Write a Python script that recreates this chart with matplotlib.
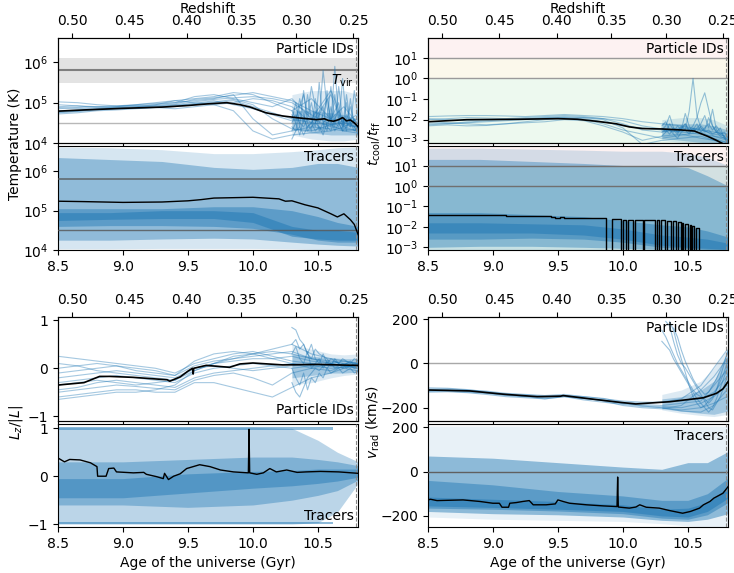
import numpy as np
import matplotlib.pyplot as plt
from matplotlib.ticker import NullLocator

nan = np.nan
BLUE = "#1f77b4"

# axes ticks
AGE_TICKS = [8.5, 9.0, 9.5, 10.0, 10.5]
Z_TICKS = [0.50, 0.45, 0.40, 0.35, 0.30, 0.25]
Z_AGES = [8.61, 9.05, 9.49, 9.91, 10.335, 10.77]
T_END = 10.79
XLIM = (8.5, 10.81)

# time grids for the particle ID trajectories
t_pid = [8.5, 8.65, 8.8, 8.95, 9.1, 9.25, 9.4, 9.55, 9.7, 9.85, 10.0, 10.15, 10.3, 10.45, 10.6, 10.7, 10.8]
t_late = [10.30, 10.33, 10.36, 10.39, 10.42, 10.45, 10.48, 10.51, 10.54, 10.57, 10.60, 10.63, 10.66, 10.69, 10.72, 10.75, 10.78, 10.81]
t_lateband = [10.3, 10.45, 10.6, 10.7, 10.81]

# ---------------- Temperature (log10 K) ----------------
temp_pid = [
    [4.78, 4.80, 4.83, 4.85, 4.86, 4.88, 4.90, 4.95, 5.00, 5.05, 4.90, 4.75, 4.60, 4.50, 4.45, 4.50, 4.40],
    [4.85, 4.88, 4.90, 4.92, 4.93, 4.95, 5.05, 5.10, 5.15, 5.25, 5.20, 5.00, 4.80, 5.10, 4.60, 4.90, 4.50],
    [5.02, 5.00, 4.95, 4.92, 4.95, 4.98, 5.00, 5.05, 5.10, 5.20, 4.60, 4.20, 4.30, 4.40, 4.35, 4.30, 4.35],
    [4.72, 4.75, 4.80, 4.82, 4.85, 4.88, 4.85, 4.90, 4.95, 5.00, 5.10, 5.05, 4.90, 4.50, 5.20, 4.40, 4.60],
    [4.90, 4.92, 4.88, 4.90, 4.95, 5.00, 5.05, 5.00, 4.95, 4.80, 4.30, 4.10, 4.20, 4.25, 4.30, 4.40, 4.30],
    [4.75, 4.78, 4.82, 4.85, 4.88, 4.92, 4.95, 5.02, 5.08, 5.12, 5.15, 5.10, 5.00, 4.70, 4.45, 4.55, 4.35],
    [4.95, 4.92, 4.90, 4.88, 4.90, 4.95, 5.00, 5.15, 5.20, 5.10, 5.00, 4.90, 5.10, 4.60, 5.30, 4.50, 4.70],
    [4.80, 4.82, 4.85, 4.90, 4.92, 4.90, 4.92, 4.98, 5.05, 4.95, 4.85, 4.70, 4.55, 4.60, 4.40, 4.35, 4.30],
    [4.88, 4.86, 4.84, 4.87, 4.90, 4.93, 4.97, 5.08, 5.12, 5.18, 5.25, 5.15, 5.05, 4.80, 4.60, 4.45, 4.40],
    [4.76, 4.79, 4.84, 4.86, 4.87, 4.89, 4.94, 4.97, 5.02, 5.08, 4.95, 4.60, 4.35, 4.30, 4.45, 4.30, 4.25],
]
temp_late = [
    [4.6, 5.0, 4.4, 5.3, 4.5, 4.3, 5.1, 4.6, 5.8, 4.9, 4.4, 5.2, 4.5, 4.3, 5.0, 4.4, 4.6, 4.3],
    [4.4, 4.3, 4.8, 4.5, 5.2, 4.6, 4.4, 5.5, 4.5, 4.3, 4.9, 4.4, 5.4, 4.6, 4.3, 5.1, 4.4, 4.5],
    [4.5, 4.7, 4.5, 4.4, 4.6, 5.0, 4.5, 4.4, 4.3, 5.3, 4.5, 5.9, 4.6, 4.4, 5.2, 4.5, 4.3, 4.4],
    [4.3, 4.5, 4.2, 4.6, 4.4, 4.5, 4.8, 4.3, 4.5, 4.6, 5.4, 4.5, 4.4, 5.6, 4.5, 4.4, 5.3, 4.6],
    [4.7, 4.5, 5.1, 4.7, 4.3, 4.4, 4.5, 4.7, 4.9, 4.4, 4.3, 4.6, 4.8, 4.5, 4.7, 4.5, 4.4, 4.2],
    [4.1, 4.3, 4.4, 4.2, 4.4, 4.5, 4.3, 4.4, 4.2, 4.5, 4.6, 4.3, 4.5, 4.3, 4.4, 4.6, 4.5, 4.4],
    [4.8, 4.6, 4.9, 5.2, 4.7, 5.4, 4.9, 4.5, 4.7, 5.1, 4.6, 4.8, 5.0, 4.4, 4.6, 4.9, 4.5, 4.4],
]
temp_lateband_lo = [[4.35, 4.25, 4.2, 4.2, 4.2], [4.2, 4.1, 4.05, 4.05, 4.1]]
temp_lateband_hi = [[4.8, 4.8, 4.75, 4.7, 4.6], [5.2, 5.3, 5.3, 5.3, 5.2]]
temp_pid_med_t = [8.5, 8.7, 9.0, 9.3, 9.5, 9.65, 9.8, 9.9, 9.98, 10.1, 10.23, 10.36, 10.49, 10.55, 10.58, 10.62, 10.66, 10.69, 10.72, 10.75, 10.78, 10.81]
temp_pid_med = [4.79, 4.82, 4.86, 4.89, 4.93, 4.97, 5.00, 4.95, 4.89, 4.75, 4.67, 4.62, 4.58, 4.60, 4.56, 4.54, 4.58, 4.63, 4.55, 4.57, 4.50, 4.40]

t_tB = [8.5, 8.9, 9.3, 9.7, 10.0, 10.3, 10.5, 10.65, 10.81]
temp_trc_bands = [
    ([4.03, 4.03, 4.04, 4.04, 4.04, 4.03, 4.01, 4.00, 4.00], [6.62, 6.60, 6.55, 6.45, 6.45, 6.50, 6.55, 6.60, 6.62]),
    ([4.25, 4.25, 4.28, 4.30, 4.28, 4.20, 4.15, 4.12, 4.10], [6.35, 6.30, 6.25, 6.10, 6.05, 6.10, 6.20, 6.20, 6.10]),
    ([4.60, 4.62, 4.62, 4.60, 4.55, 4.40, 4.25, 4.20, 4.20], [5.05, 5.05, 5.05, 5.10, 5.10, 5.00, 4.85, 4.70, 4.60]),
    ([4.75, 4.78, 4.80, 4.80, 4.70, 4.35, 4.28, 4.25, 4.25], [4.95, 4.95, 5.00, 5.00, 4.95, 4.60, 4.50, 4.50, 4.45]),
]
temp_trc_med_t = [8.5, 8.7, 9.0, 9.3, 9.5, 9.6, 9.7, 9.85, 10.0, 10.1, 10.2, 10.25, 10.3, 10.4, 10.5, 10.6, 10.65, 10.7, 10.75, 10.78, 10.81]
temp_trc_med = [5.24, 5.23, 5.21, 5.22, 5.25, 5.28, 5.32, 5.33, 5.34, 5.32, 5.30, 5.24, 5.25, 5.15, 5.07, 4.92, 4.84, 4.92, 4.77, 4.65, 4.39]

# ---------------- t_cool / t_ff (log10) ----------------
tcool_pid = [
    [-2.25, -2.2, -2.15, -2.1, -2.05, -2.0, -1.95, -1.9, -1.95, -2.1, -2.3, -2.4, -2.5, -2.6, -2.7, -2.8, -2.9],
    [-1.85, -1.82, -1.8, -1.8, -1.82, -1.85, -1.8, -1.75, -1.8, -1.85, -1.95, -2.1, -2.2, -2.3, -2.5, -2.6, -2.7],
    [-2.1, -2.15, -2.2, -2.25, -2.2, -2.15, -2.1, -2.0, -2.05, -2.3, -2.6, -3.0, -2.8, -2.7, -2.9, -3.0, -3.1],
    [-2.0, -1.95, -1.9, -1.92, -1.95, -1.9, -1.85, -1.8, -1.85, -1.95, -2.2, -2.5, -2.6, -2.4, -2.5, -2.7, -2.8],
    [-2.3, -2.25, -2.3, -2.28, -2.2, -2.1, -2.0, -1.95, -1.9, -1.95, -2.05, -2.3, -2.45, -2.55, -2.4, -2.8, -3.0],
    [-1.95, -2.0, -2.05, -2.0, -1.98, -1.95, -1.92, -1.9, -2.0, -2.2, -2.5, -2.7, -2.9, -2.75, -2.6, -2.9, -3.1],
    [-2.2, -2.18, -2.12, -2.05, -2.0, -1.97, -1.9, -1.85, -1.9, -2.0, -2.4, -3.2, -3.0, -2.9, -2.8, -3.0, -3.2],
]
tcool_late = [
    [-2.6, -2.5, -2.7, -2.4, -2.6, -2.3, -2.5, -1.6, 0.0, -1.8, -2.4, -2.6, -2.5, -2.7, -2.6, -2.8, -2.9, -3.0],
    [-2.4, -2.6, -2.2, -2.5, -2.7, -2.4, -2.2, -2.5, -2.3, -1.9, -1.2, -0.7, -1.5, -2.3, -2.6, -2.7, -2.8, -3.0],
    [-2.3, -2.1, -2.5, -2.6, -2.3, -2.5, -1.7, -2.3, -2.6, -2.4, -2.2, -1.8, -2.4, -1.5, -2.5, -2.7, -2.6, -2.9],
    [-2.8, -2.6, -2.5, -2.7, -2.9, -2.6, -2.5, -2.7, -2.4, -2.6, -2.3, -2.5, -1.9, -2.3, -2.6, -2.4, -2.9, -3.1],
    [-2.5, -2.3, -1.8, -2.4, -2.6, -2.5, -2.2, -2.6, -2.5, -2.2, -2.6, -2.4, -2.2, -2.5, -2.3, -2.6, -2.8, -3.2],
]
tcool_lateband_lo = [[-2.9, -3.0, -3.1, -3.15, -3.2], [-3.0, -3.1, -3.2, -3.2, -3.2]]
tcool_lateband_hi = [[-2.15, -2.2, -2.2, -2.3, -2.5], [-2.0, -1.9, -1.9, -2.0, -2.3]]
tcool_pid_med_t = [8.5, 8.8, 9.2, 9.5, 9.65, 9.8, 9.95, 10.05, 10.15, 10.3, 10.45, 10.55, 10.65, 10.72, 10.81]
tcool_pid_med = [-2.1, -2.0, -1.98, -1.95, -1.98, -2.08, -2.2, -2.35, -2.43, -2.45, -2.5, -2.55, -2.8, -3.0, -3.3]

t_tD = [8.5, 8.9, 9.3, 9.7, 10.0, 10.3, 10.5, 10.65, 10.81]
tcool_trc_bands = [
    ([-3.13] * 9, [1.85, 1.85, 1.8, 1.75, 1.7, 1.7, 1.6, 1.4, 1.0]),
    ([-3.0, -2.95, -2.95, -3.0, -3.05, -3.1, -3.12, -3.13, -3.13], [1.3, 1.3, 1.2, 1.1, 1.0, 1.0, 0.9, 0.5, 0.0]),
    ([-2.6, -2.6, -2.55, -2.6, -2.75, -3.0, -3.05, -3.1, -3.1], [-1.3, -1.3, -1.4, -1.5, -1.7, -1.9, -2.0, -2.2, -2.5]),
    ([-2.3, -2.3, -2.3, -2.4, -2.6, -2.9, -3.0, -3.05, -3.1], [-1.8, -1.8, -1.85, -1.9, -2.1, -2.4, -2.5, -2.6, -2.8]),
]
# median of the tracers, drops below the axis where it is undefined (-6)
tcool_trc_med_t = [8.5, 8.7, 8.9, 9.1, 9.3, 9.45, 9.48, 9.52, 9.55, 9.7, 9.869, 9.913, 9.982, 10.003, 10.028,
                   10.036, 10.079, 10.092, 10.156, 10.165, 10.251, 10.262, 10.28, 10.29, 10.328, 10.343, 10.374,
                   10.387, 10.408, 10.426, 10.444, 10.455, 10.464, 10.479, 10.5, 10.515, 10.528, 10.535, 10.546,
                   10.56, 10.587, 10.81]
tcool_trc_med = [-1.40, -1.42, -1.44, -1.46, -1.48, -1.52, -1.56, -1.53, -1.55, -1.56, -6, -1.63, -6, -1.64, -6,
                 -1.64, -6, -1.64, -6, -1.65, -6, -1.68, -6, -1.68, -6, -1.70, -6,
                 -1.70, -6, -1.75, -6, -1.80, -6, -1.85, -6, -1.90, -6, -1.95, -6,
                 -2.05, -6, -6]

# ---------------- L_z / |L| ----------------
lz_pid = [
    [0.25, 0.2, 0.15, 0.1, 0.05, 0.0, -0.1, 0.1, 0.2, 0.3, 0.35, 0.25, 0.15, 0.1, 0.05, 0.1, 0.08],
    [-0.1, -0.05, 0.0, 0.05, 0.0, -0.05, -0.15, 0.05, 0.15, 0.2, 0.3, 0.35, 0.3, 0.2, 0.1, 0.15, 0.1],
    [-0.3, -0.25, -0.2, -0.15, -0.2, -0.25, -0.3, -0.1, 0.0, 0.05, 0.1, 0.05, 0.0, 0.05, 0.0, 0.02, 0.05],
    [-0.45, -0.4, -0.3, -0.25, -0.3, -0.35, -0.4, -0.2, -0.1, -0.05, 0.0, 0.05, 0.1, 0.0, 0.1, 0.05, 0.0],
    [-0.6, -0.55, -0.5, -0.45, -0.45, -0.5, -0.5, -0.3, -0.3, -0.4, -0.5, -0.6, -0.4, -0.2, -0.1, 0.0, -0.05],
    [-0.65, -0.6, -0.55, -0.5, -0.5, -0.45, -0.35, -0.05, 0.1, 0.2, 0.25, 0.3, 0.35, 0.2, 0.15, 0.1, 0.12],
    [-0.2, -0.15, -0.1, -0.05, -0.1, -0.15, -0.2, 0.0, 0.05, 0.0, -0.05, 0.0, 0.05, 0.1, 0.05, 0.0, 0.1],
    [0.1, 0.05, -0.05, -0.1, -0.15, -0.2, -0.25, -0.05, 0.1, 0.15, 0.2, 0.2, 0.1, 0.05, 0.08, 0.05, 0.03],
    [0.0, 0.05, 0.1, 0.05, -0.05, -0.1, -0.15, 0.15, 0.3, 0.35, 0.3, 0.2, 0.25, 0.15, 0.1, 0.05, 0.05],
    [-0.5, -0.45, -0.4, -0.35, -0.38, -0.42, -0.45, -0.25, -0.15, -0.1, -0.2, -0.35, -0.1, 0.0, -0.05, 0.05, 0.0],
    [-0.35, -0.3, -0.25, -0.3, -0.35, -0.3, -0.25, 0.0, 0.1, 0.25, 0.3, 0.4, 0.5, 0.3, 0.2, 0.15, 0.1],
]
lz_late = [
    [0.85, 0.8, 0.6, 0.5, 0.3, 0.2, 0.4, 0.3, 0.25, 0.2, 0.1, 0.15, 0.1, 0.05, 0.1, 0.05, 0.1, 0.08],
    [-0.3, -0.5, -0.6, -0.4, -0.2, -0.1, 0.0, -0.05, 0.05, 0.0, 0.1, 0.0, 0.05, 0.1, 0.0, 0.05, 0.0, 0.05],
    [0.5, 0.6, 0.4, 0.5, 0.3, 0.5, 0.2, 0.1, 0.3, 0.1, 0.2, 0.15, 0.1, 0.2, 0.15, 0.1, 0.2, 0.15],
    [0.0, -0.2, -0.35, -0.1, -0.45, -0.2, -0.3, -0.1, -0.2, 0.0, -0.1, -0.05, 0.0, -0.1, -0.05, 0.0, -0.1, -0.05],
    [0.3, 0.45, 0.2, 0.1, 0.35, 0.0, 0.1, 0.2, 0.0, 0.15, 0.05, 0.2, 0.1, 0.0, 0.1, 0.15, 0.05, 0.1],
]
lz_lateband_lo = [[-0.2, -0.15, -0.1, -0.1, -0.08], [-0.35, -0.3, -0.2, -0.15, -0.12]]
lz_lateband_hi = [[0.3, 0.25, 0.22, 0.2, 0.2], [0.5, 0.4, 0.3, 0.28, 0.3]]
lz_pid_med_t = [8.5, 8.7, 8.82, 8.9, 9.08, 9.34, 9.36, 9.44, 9.5, 9.535, 9.54, 9.545, 9.64, 9.82, 9.9, 10.0, 10.23, 10.5, 10.81]
lz_pid_med = [-0.35, -0.3, -0.17, -0.17, -0.19, -0.24, -0.27, -0.18, -0.06, 0.0, -0.12, 0.0, 0.06, 0.02, 0.09, 0.11, 0.07, 0.08, 0.06]

t_tF = [8.5, 9.0, 9.5, 10.0, 10.3, 10.5, 10.65, 10.81]
lz_trc_bands = [
    ([-1.0, -1.0, -1.0, -1.0, -1.0, -0.97, -0.75, -0.15], [1.02, 1.02, 1.02, 1.02, 1.0, 0.75, 0.5, 0.3]),
    ([-0.6, -0.6, -0.65, -0.6, -0.5, -0.4, -0.3, -0.08], [0.3, 0.3, 0.35, 0.4, 0.4, 0.35, 0.3, 0.22]),
    ([-0.45, -0.45, -0.35, -0.25, -0.2, -0.15, -0.1, -0.02], [-0.05, -0.05, 0.05, 0.1, 0.12, 0.15, 0.15, 0.15]),
]
t_edge = [8.5, 10.62]
lz_edge_top = ([0.97, 0.97], [1.02, 1.02])
lz_edge_bot = ([-1.0, -1.0], [-0.95, -0.95])
lz_trc_med_t = [8.5, 8.55, 8.59, 8.67, 8.75, 8.8, 8.805, 8.87, 8.89, 8.93, 8.95, 9.08, 9.16, 9.18, 9.26, 9.31, 9.32, 9.35,
                9.39, 9.44, 9.49, 9.54, 9.59, 9.67, 9.75, 9.85, 9.965, 9.97, 9.975, 10.03, 10.08, 10.13, 10.18, 10.26,
                10.34, 10.41, 10.52, 10.66, 10.81]
lz_trc_med = [0.38, 0.30, 0.35, 0.34, 0.28, 0.20, 0.0, 0.0, 0.16, 0.17, 0.09, 0.07, 0.08, 0.04, -0.01, -0.05, 0.06, -0.07,
              0.0, 0.05, 0.16, 0.20, 0.24, 0.20, 0.13, 0.09, 0.07, 0.98, 0.07, 0.04, 0.07, 0.16, 0.09, 0.13,
              0.08, 0.09, 0.10, 0.09, 0.06]

# ---------------- v_rad (km/s) ----------------
vrad_pid = [
    [-115, -115, -120, -125, -135, -140, -145, -140, -150, -160, -170, -175, -175, -170, -160, -130, -60],
    [-125, -125, -130, -135, -145, -150, -160, -150, -160, -165, -180, -190, -195, -200, -180, -150, -100],
    [-120, -118, -122, -130, -140, -148, -150, -145, -155, -170, -190, -200, -205, -190, -120, -60, 20],
    [-130, -128, -132, -140, -150, -155, -160, -150, -165, -175, -185, -195, -200, -210, -200, -180, -150],
    [-110, -112, -118, -128, -138, -142, -148, -145, -150, -158, -175, -180, -175, -160, -100, -20, 60],
    [-125, -122, -125, -132, -140, -148, -155, -148, -158, -168, -182, -185, -190, -180, -170, -100, -30],
    [-118, -120, -126, -134, -144, -150, -152, -146, -156, -166, -178, -192, -200, -215, -220, -190, -120],
]
vrad_late = [
    [nan, nan, 190, 150, 80, 20, -40, -100, -150, -180, -200, -190, -170, -150, -120, -80, -40, 20],
    [150, 120, 80, 40, 0, -30, -60, -90, -120, -140, -150, -160, -180, -160, -120, -60, 0, 60],
    [nan, 190, 170, 100, 40, 0, -20, -50, -80, -110, -140, -170, -200, -210, -180, -150, -100, -40],
    [100, 80, 60, 20, -10, -40, -70, -100, -130, -160, -180, -200, -220, -200, -160, -110, -60, -10],
    [nan, nan, nan, 160, 120, 60, 10, -30, -70, -100, -120, -140, -130, -100, -70, -30, 10, 50],
]
vrad_lateband_lo = [[-205, -215, -225, -230, -215], [-210, -225, -235, -240, -230]]
vrad_lateband_hi = [[-160, -150, -120, -80, 40], [-140, -120, -80, -20, 70]]
vrad_pid_med_t = [8.5, 8.82, 9.08, 9.34, 9.52, 9.54, 9.72, 9.98, 10.1, 10.36, 10.62, 10.72, 10.77, 10.81]
vrad_pid_med = [-120, -124, -139, -150, -148, -145, -158, -176, -183, -173, -155, -135, -115, -82]

t_tH = [8.5, 9.0, 9.5, 10.0, 10.3, 10.5, 10.65, 10.81]
vrad_trc_bands = [
    ([-205, -215, -220, -225, -235, -245, -250, -250], [205, 205, 205, 205, 205, 205, 205, 205]),
    ([-180, -190, -195, -205, -220, -225, -215, -190], [70, 60, 40, 20, 10, 40, 40, 90]),
    ([-165, -170, -178, -190, -210, -215, -195, -140], [-40, -60, -90, -110, -130, -130, -100, -30]),
    ([-155, -162, -170, -180, -200, -205, -180, -120], [-115, -125, -135, -150, -170, -165, -140, -70]),
]
vrad_trc_med_t = [8.5, 8.52, 8.57, 8.77, 8.9, 9.0, 9.05, 9.07, 9.12, 9.13, 9.18, 9.23, 9.28, 9.31, 9.41, 9.48, 9.5,
                  9.54, 9.59, 9.72, 9.85, 9.955, 9.96, 9.965, 10.05, 10.1, 10.13, 10.18, 10.28, 10.36, 10.46, 10.52,
                  10.59, 10.62, 10.67, 10.7, 10.77, 10.81]
vrad_trc_med = [-128, -125, -131, -128, -135, -143, -143, -161, -161, -143, -140, -135, -131, -150, -150, -146, -128,
                -135, -143, -150, -155, -158, -25, -160, -165, -160, -150, -161, -165, -176, -188, -180,
                -165, -150, -135, -120, -98, -68]


def style_axis(ax, ylim, log=False, yticks=None, bottom_labels=False):
    ax.set_xlim(*XLIM)
    if log:
        ax.set_yscale("log")
        ax.yaxis.set_minor_locator(NullLocator())
    ax.set_ylim(*ylim)
    if yticks is not None:
        ax.set_yticks(yticks)
    ax.set_xticks(AGE_TICKS)
    if not bottom_labels:
        ax.set_xticklabels([])
    ax.axvline(T_END, color="#888888", ls="--", lw=0.8, zorder=5)


def add_redshift(ax, label):
    top = ax.twiny()
    top.set_xlim(*XLIM)
    top.set_xticks(Z_AGES)
    top.set_xticklabels([f"{z:.2f}" for z in Z_TICKS])
    if label:
        top.set_xlabel("Redshift", labelpad=1)


def conv(v, log):
    v = np.array(v, dtype=float)
    return 10 ** v if log else v


def draw_pid(ax, lines, late, band_lo, band_hi, med_t, med, log=False):
    for lo, hi, a in zip(band_lo, band_hi, [0.3, 0.15]):
        ax.fill_between(t_lateband, conv(lo, log), conv(hi, log), color=BLUE, alpha=a, lw=0)
    for row in lines:
        ax.plot(t_pid, conv(row, log), color=BLUE, alpha=0.4, lw=0.8)
    for row in late:
        ax.plot(t_late, conv(row, log), color=BLUE, alpha=0.45, lw=0.8)
    ax.plot(med_t, conv(med, log), color="black", lw=1.2, zorder=6)


def draw_tracers(ax, t, bands, alphas, log=False):
    for (lo, hi), a in zip(bands, alphas):
        ax.fill_between(t, conv(lo, log), conv(hi, log), color=BLUE, alpha=a, lw=0)


def label(ax, txt, top=True):
    ax.text(0.985, 0.96 if top else 0.04, txt, transform=ax.transAxes,
            ha="right", va="top" if top else "bottom", fontsize=10, zorder=10)


plt.rcParams["font.size"] = 10
fig = plt.figure(figsize=(7.34, 5.73), dpi=100)

L, R, W = 0.079, 0.583, 0.409
axA = fig.add_axes([L, 0.7504, W, 0.1832])
axB = fig.add_axes([L, 0.5637, W, 0.1815])
axC = fig.add_axes([R, 0.7504, W, 0.1832])
axD = fig.add_axes([R, 0.5637, W, 0.1815])
axE = fig.add_axes([L, 0.2653, W, 0.1815])
axF = fig.add_axes([L, 0.0803, W, 0.1789])
axG = fig.add_axes([R, 0.2653, W, 0.1815])
axH = fig.add_axes([R, 0.0803, W, 0.1789])

# temperature, particle IDs
style_axis(axA, (1e4, 4e6), log=True, yticks=[1e4, 1e5, 1e6])
axA.axhspan(3e5, 1.3e6, color="#e3e3e3", lw=0, zorder=0)
axA.axhline(6.3e5, color="#7f7f7f", lw=1.5, zorder=1)
axA.axhline(3.2e4, color="#b8b8b8", lw=1.0, zorder=1)
draw_pid(axA, temp_pid, temp_late, temp_lateband_lo, temp_lateband_hi, temp_pid_med_t, temp_pid_med, log=True)
axA.text(0.985, 5.6e5, r"$T_{\rm vir}$", transform=axA.get_yaxis_transform(), ha="right", va="top", fontsize=10)
label(axA, "Particle IDs")
add_redshift(axA, True)

# temperature, tracers
style_axis(axB, (1e4, 4.4e6), log=True, yticks=[1e4, 1e5, 1e6], bottom_labels=True)
draw_tracers(axB, t_tB, temp_trc_bands, [0.18, 0.38, 0.45, 0.5], log=True)
axB.axhline(6.3e5, color="#555555", lw=1.2, alpha=0.8, zorder=4)
axB.axhline(3.2e4, color="#555555", lw=1.0, alpha=0.8, zorder=4)
axB.plot(temp_trc_med_t, conv(temp_trc_med, True), color="black", lw=1.0, zorder=6)
label(axB, "Tracers")

# cooling time ratio
for ax in (axC, axD):
    style_axis(ax, (7.4e-4, 90), log=True, yticks=[1e-3, 1e-2, 1e-1, 1, 10], bottom_labels=(ax is axD))
    ax.axhspan(10, 1e3, color="#fdf2f2", lw=0, zorder=0)
    ax.axhspan(1, 10, color="#fbf8eb", lw=0, zorder=0)
    ax.axhspan(1e-5, 1, color="#edf9ef", lw=0, zorder=0)
axC.axhline(10, color="#9a9a9a", lw=1.0, zorder=1)
axC.axhline(1, color="#9a9a9a", lw=1.0, zorder=1)
draw_pid(axC, tcool_pid, tcool_late, tcool_lateband_lo, tcool_lateband_hi, tcool_pid_med_t, tcool_pid_med, log=True)
label(axC, "Particle IDs")
add_redshift(axC, True)

draw_tracers(axD, t_tD, tcool_trc_bands, [0.18, 0.38, 0.45, 0.5], log=True)
axD.axhline(10, color="#707070", lw=1.0, zorder=4)
axD.axhline(1, color="#707070", lw=1.0, zorder=4)
axD.step(tcool_trc_med_t, conv(tcool_trc_med, True), where="post", color="black", lw=1.0, zorder=6)
label(axD, "Tracers")

# angular momentum
style_axis(axE, (-1.1, 1.07), yticks=[-1, 0, 1])
draw_pid(axE, lz_pid, lz_late, lz_lateband_lo, lz_lateband_hi, lz_pid_med_t, lz_pid_med)
label(axE, "Particle IDs", top=False)
add_redshift(axE, False)

style_axis(axF, (-1.06, 1.08), yticks=[-1, 0, 1], bottom_labels=True)
draw_tracers(axF, t_tF, lz_trc_bands, [0.3, 0.38, 0.45])
for lo, hi in (lz_edge_top, lz_edge_bot):
    axF.fill_between(t_edge, lo, hi, color=BLUE, alpha=0.5, lw=0)
axF.plot(lz_trc_med_t, lz_trc_med, color="black", lw=1.0, zorder=6)
label(axF, "Tracers", top=False)
axF.set_xlabel("Age of the universe (Gyr)")

# radial velocity
style_axis(axG, (-260, 210), yticks=[-200, 0, 200])
axG.axhline(0, color="#a8a8a8", lw=1.0, zorder=1)
draw_pid(axG, vrad_pid, vrad_late, vrad_lateband_lo, vrad_lateband_hi, vrad_pid_med_t, vrad_pid_med)
label(axG, "Particle IDs")
add_redshift(axG, False)

style_axis(axH, (-250, 212), yticks=[-200, 0, 200], bottom_labels=True)
draw_tracers(axH, t_tH, vrad_trc_bands, [0.1, 0.45, 0.45, 0.5])
axH.axhline(0, color="#606060", lw=1.0, zorder=4)
axH.plot(vrad_trc_med_t, vrad_trc_med, color="black", lw=1.0, zorder=6)
label(axH, "Tracers")
axH.set_xlabel("Age of the universe (Gyr)")

# shared y labels
fig.text(0.021, 0.749, "Temperature (K)", rotation=90, ha="center", va="center", fontsize=10)
fig.text(0.510, 0.749, r"$t_{\rm cool}/t_{\rm ff}$", rotation=90, ha="center", va="center", fontsize=10)
fig.text(0.022, 0.2635, r"$L_z/|L|$", rotation=90, ha="center", va="center", fontsize=10)
fig.text(0.508, 0.2635, r"$v_{\rm rad}$ (km/s)", rotation=90, ha="center", va="center", fontsize=10)

fig.savefig("out.png", dpi=100)
